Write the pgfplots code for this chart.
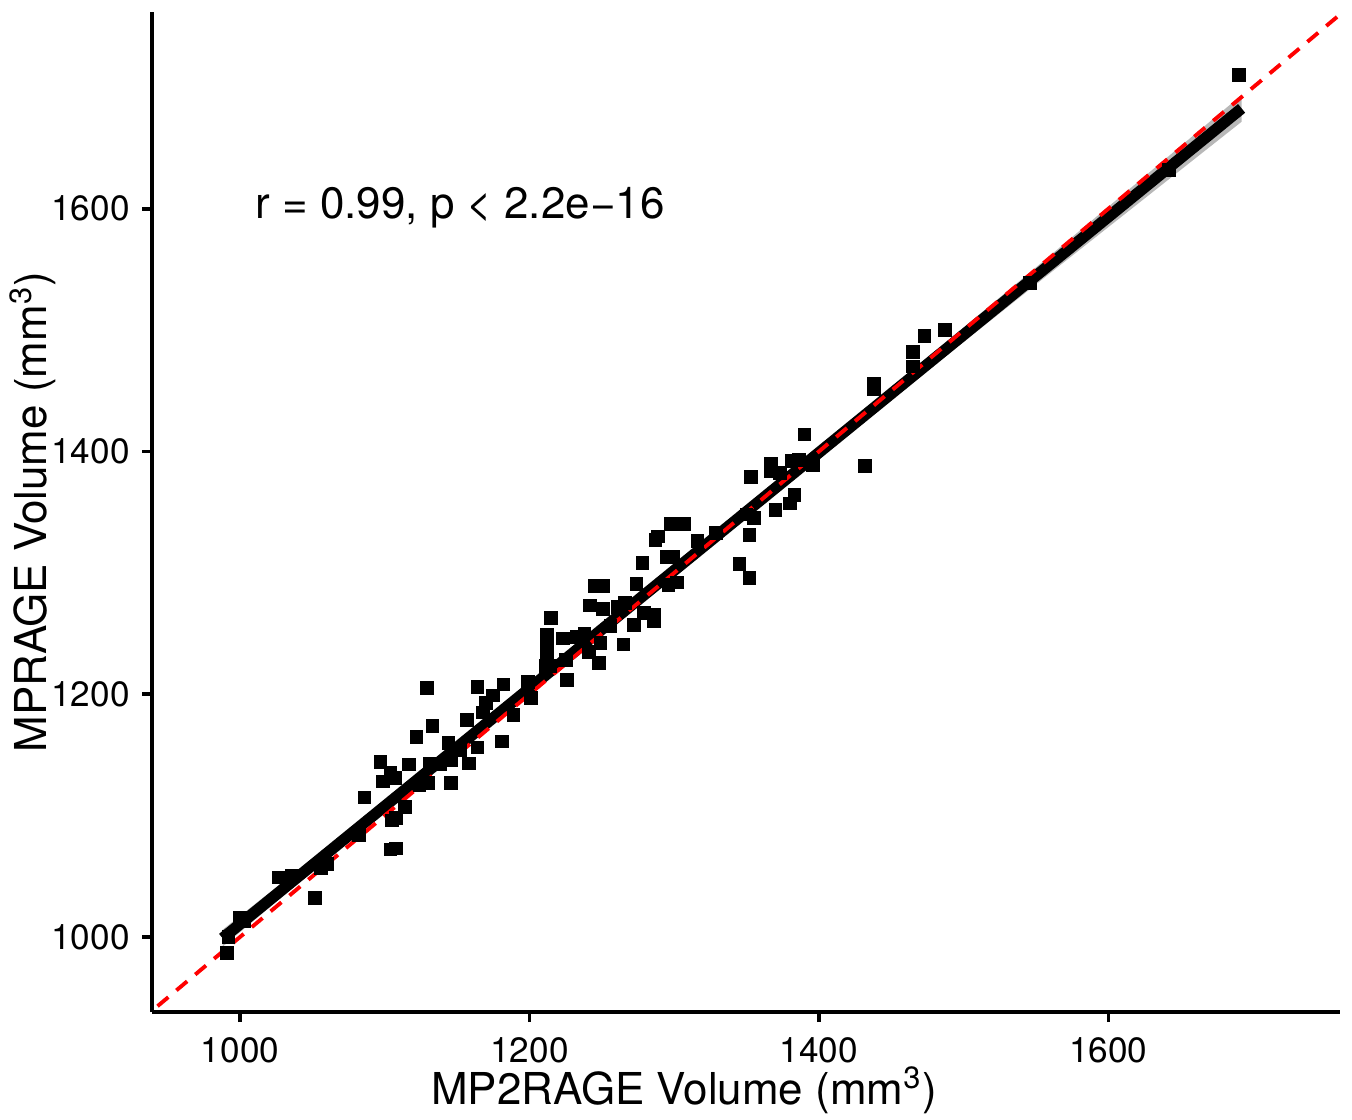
\documentclass[border=0pt]{standalone}
\usepackage{fontspec}
\setmainfont{TeX Gyre Heros}
\usepackage{pgfplots}
\pgfplotsset{compat=1.18}

\begin{document}
\begin{tikzpicture}
% page frame: axis box is 118.8mm x 100mm
\path[use as bounding box] (-15.2mm,-10.7mm) rectangle (120mm,101.2mm);
\begin{axis}[
    scale only axis,
    width=118.8mm, height=100mm,
    at={(0,0)}, anchor=south west,
    xmin=939.2, xmax=1760,
    ymin=938.2, ymax=1762,
    axis x line*=bottom, axis y line*=left,
    axis line style={line width=1.1pt, -},
    xtick={1000,1200,1400,1600},
    ytick={1000,1200,1400,1600},
    tick style={line width=1.1pt, black},
    tick align=outside,
    major tick length=1mm,
    /pgf/number format/assume math mode=true,
    /pgf/number format/1000 sep={},
    ticklabel style={font=\fontsize{10}{12}\selectfont},
    xticklabel style={yshift=-0.3mm},
    xlabel={MP2RAGE Volume (mm\textsuperscript{3})},
    ylabel={MPRAGE Volume (mm\textsuperscript{3})},
    label style={font=\fontsize{12.5}{14}\selectfont},
    xlabel style={yshift=2mm, xshift=-6.2mm},
    ylabel style={yshift=-2.9mm},
    clip=true,
]
% observations
\addplot[only marks, mark=square*, mark size=1.75pt, black] coordinates {
(991,987) (992,1000) (1000,1016) (1003,1013) (1027,1049) (1036,1050)
(1052,1032) (1056,1057) (1060,1060) (1082,1084) (1086,1115) (1104,1072)
(1108,1073) (1105,1096) (1108,1098) (1114,1107) (1099,1128) (1097,1144)
(1104,1135) (1107,1131) (1117,1142) (1122,1165) (1129,1205) (1133,1174)
(1124,1125) (1130,1127) (1131,1143) (1138,1142) (1146,1127) (1146,1146)
(1144,1160) (1152,1154) (1158,1143) (1164,1156) (1181,1161) (1157,1179)
(1164,1206) (1170,1193) (1175,1199) (1182,1208) (1168,1185) (1189,1183)
(1201,1197) (1199,1210) (1211,1223) (1215,1263) (1212,1249) (1212,1239)
(1212,1231) (1214,1223) (1223,1246) (1226,1212) (1225,1228) (1233,1247)
(1238,1250) (1241,1235) (1248,1226) (1249,1242) (1242,1273) (1245,1289)
(1251,1289) (1251,1270) (1256,1256) (1261,1272) (1265,1241) (1266,1275)
(1272,1257) (1274,1291) (1278,1308) (1279,1267) (1286,1260) (1286,1265)
(1287,1327) (1289,1330) (1295,1313) (1296,1290) (1299,1313) (1302,1292)
(1298,1340) (1307,1340) (1316,1326) (1329,1333) (1345,1307) (1352,1296)
(1352,1331) (1350,1348) (1355,1345) (1370,1352) (1380,1357) (1353,1379)
(1367,1390) (1367,1384) (1373,1382) (1383,1364) (1381,1392) (1386,1393)
(1396,1389) (1390,1414) (1432,1388) (1438,1456) (1438,1451) (1465,1482)
(1473,1495) (1487,1500) (1465,1470) (1546,1539) (1642,1632) (1690,1710)
};
% confidence band of the fit
\addplot[fill=gray!70, draw=none, opacity=0.8] coordinates {
(988,992) (1100,1103.8) (1250,1251.4) (1400,1395.1) (1550,1537.7) (1692,1671.6)
(1692,1693.6) (1550,1551.7) (1400,1403.1) (1250,1255.4) (1100,1111.8) (988,1006)
} -- cycle;
% linear fit
\addplot[black, line width=3.2pt] coordinates {(988,999) (1692,1682.6)};
% identity line
\addplot[red, line width=1.1pt, dash pattern=on 4pt off 3pt] coordinates {(930,930) (1770,1770)};
\node[font=\fontsize{12.5}{14}\selectfont] at (axis cs:1152,1601) {r = 0.99, p < 2.2e−16};
\end{axis}
\end{tikzpicture}
\end{document}
